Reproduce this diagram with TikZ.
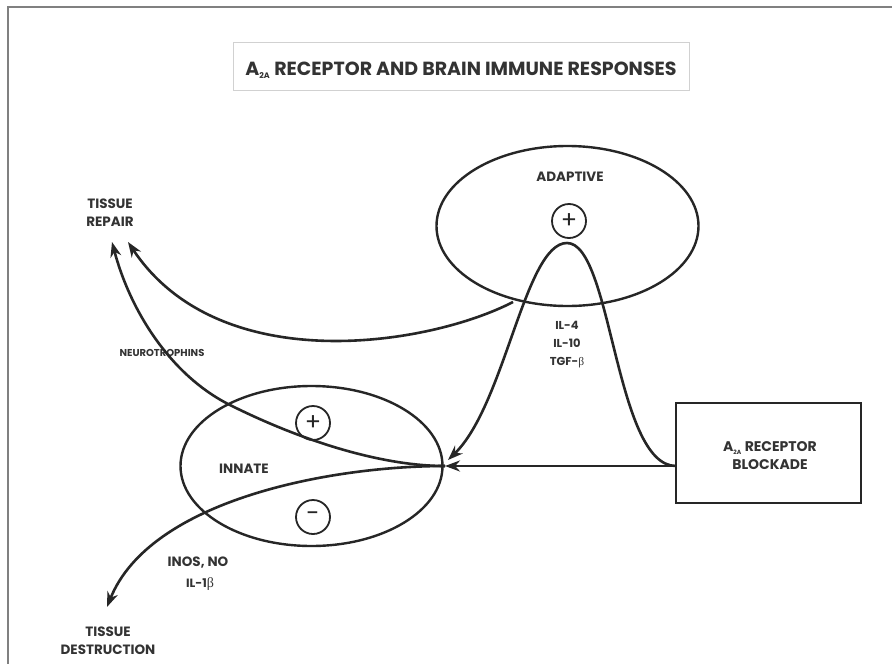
\documentclass[tikz,border=0pt]{standalone}
\usepackage{fontspec}
\setmainfont{Poppins}
\newfontfamily\grk{Liberation Serif}
\usetikzlibrary{shapes.geometric,arrows.meta}
\definecolor{ink}{HTML}{262626}
\definecolor{txt}{HTML}{333333}
\tikzset{
  line/.style={draw=ink, line width=2.6pt},
  arr/.style={line, -{Stealth[length=15pt,width=11pt]}},
  oval/.style={ellipse, draw=ink, line width=2.4pt, minimum width=262pt, minimum height=160pt, inner sep=0pt},
  sign/.style={circle, draw=ink, line width=1.8pt, minimum size=34pt, inner sep=0pt, font=\fontsize{24}{24}\selectfont, text=ink},
  lbl/.style={text=txt, font=\fontsize{13.5}{15}\selectfont\bfseries, align=center, inner sep=0pt},
}
\begin{document}
\begin{tikzpicture}[x=1pt,y=-1pt]
\useasboundingbox (0,0) rectangle (892,664);
\fill[white] (0,0) rectangle (892,664);
% outer frame
\draw[gray, line width=1.8pt] (8,664) -- (8,7) -- (892,7);
% title box
\node[draw=black!18, line width=1pt, minimum width=456pt, minimum height=48pt, inner sep=0pt] (title) at (461,66) {};
\node[text=txt, font=\fontsize{19}{21}\selectfont\bfseries, inner sep=0pt] (titletext) at (461,70) {A\textsubscript{\fontsize{8}{8}\selectfont 2A} RECEPTOR AND BRAIN IMMUNE RESPONSES};
% ellipses
\node[oval] (adaptive) at (567.5,226) {};
\node[lbl, font=\fontsize{13.5}{16}\selectfont\bfseries] (adtext) at (570,177) {ADAPTIVE};
\node[sign] (aplus) at (569,221) {+};
\node[oval] (innate) at (311.5,466) {};
\node[lbl, font=\fontsize{13.5}{16}\selectfont\bfseries] (intext) at (244,469) {INNATE};
\node[sign] (iplus) at (313,423) {+};
\node[sign] (iminus) at (313,517) {-};
% box
\node[draw=ink, line width=2.6pt, minimum width=185pt, minimum height=100pt, inner sep=0pt] (box) at (768.5,453) {};
\node[lbl, font=\fontsize{14}{16}\selectfont\bfseries] (boxtext) at (770,456) {A\textsubscript{\fontsize{6}{6}\selectfont 2A} RECEPTOR\\[2pt]BLOCKADE};
% labels
\node[lbl] (repair) at (110,213) {TISSUE\\[3pt]REPAIR};
\node[lbl] (destr) at (108,641) {TISSUE\\[3pt]DESTRUCTION};
\node[lbl, font=\fontsize{10}{12}\selectfont\bfseries] (neuro) at (162,353) {NEUROTROPHINS};
\node[lbl, font=\fontsize{11.5}{13}\selectfont\bfseries] (cyto) at (567,345) {IL-4\\[5pt]IL-10\\[5pt]TGF-{\grk\mdseries β}};
\node[lbl, font=\fontsize{13.5}{15}\selectfont\bfseries] (inos) at (198,563) {INOS, NO};
\node[lbl, font=\fontsize{12}{14}\selectfont\bfseries] (il1) at (200,584) {IL-1{\grk\mdseries\fontsize{14}{14}\selectfont β}};
% coordinates
\coordinate (m) at (445,466);
\coordinate (b) at (676,466);
\coordinate (peak) at (567,243);
\coordinate (rL) at (112,242);
\coordinate (rR) at (128,242);
\coordinate (src) at (513,302);
\coordinate (mid) at (230,405);
\coordinate (dtip) at (107,607);
% connectors
\draw[arr] (b) -- (m);
\draw[arr] (b) .. controls (615,466) and (612,243) .. (peak) .. controls (525,243) and (505,405) .. (448,460);
\draw[arr] (src) .. controls (430,345) and (220,380) .. (rR);
\draw[arr] (m) .. controls (380,466) and (300,440) .. (mid) .. controls (170,375) and (130,310) .. (rL);
\draw[arr] (m) .. controls (330,466) and (150,500) .. (dtip);
\end{tikzpicture}
\end{document}
